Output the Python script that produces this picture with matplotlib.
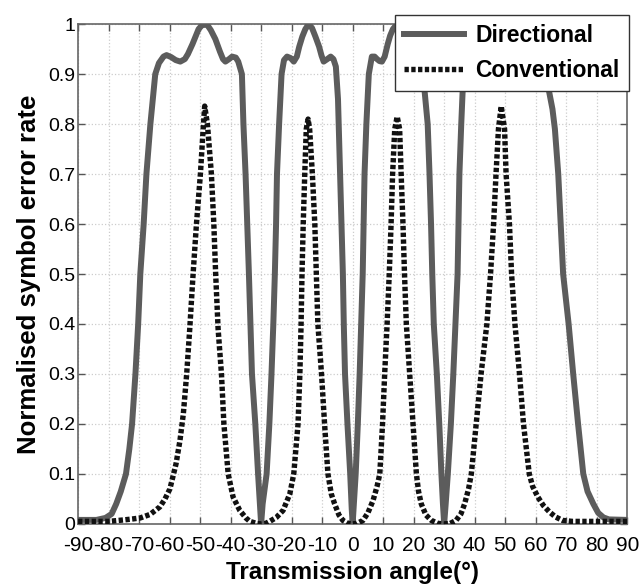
import numpy as np
import matplotlib
matplotlib.use("Agg")
import matplotlib.pyplot as plt

plt.rcParams['font.family'] = ['Liberation Sans', 'DejaVu Sans']

# directional transmission (grey solid)
dir_angle = [-90, -84, -81, -79, -77.5, -76, -74.3, -73.2, -72.3, -71.2, -70.3,
             -69.6, -68.5, -67.6, -66.3, -64.7, -63.5, -62, -61, -59.5, -58, -56.5,
             -55, -54, -52.5, -51.5, -50.5, -49.5, -48.6, -47.5, -46.5, -45, -43.5,
             -42.5, -41.7, -40.5, -39.5, -38.3, -37.5, -36.3,
             -35.8, -35.1, -34.0, -33.5, -33, -31.9, -31.0, -30.4, -30, -29.5,
             -28.2, -27.3, -26.6, -26.0, -25.5, -25.1, -24.8, -24.1, -23.3,
             -22.5, -21.5, -20.3, -19.3, -18.3, -17.5, -16.5, -15.5, -14.4, -13.3,
             -12.2, -11, -10.2, -9.5, -8.3, -7.2, -6.3,
             -5.5, -4.8, -4.1, -3.6, -3.2, -2.9, -2.5, -1.7, -0.8, -0.3, 0,
             0.4, 1.0, 1.7, 2.3, 2.8, 3.3, 3.6, 3.9, 4.5, 5.3, 6.3, 7.2, 8, 8.8, 9.6,
             10.5, 11.5, 12.3, 13.2, 14.5, 15.5, 16.5, 18, 18.8, 19.5, 20.5, 21.5,
             22.4, 23, 23.6, 24.6, 25.2, 25.7,
             26.1, 26.6, 27.6, 28.4, 29.1, 29.6, 30, 30.5, 31.2, 32.2, 33.0,
             33.7, 34.4, 34.7, 35.0, 35.6, 36.3, 37.5, 38.5, 39.5, 40.5, 41.7,
             42.5, 43.5, 44.5, 45.5, 46.5, 47.5, 48.6, 49.5, 50.5, 52, 53.3, 54.5,
             55.5, 56.5, 57.8, 59, 60.3, 61.5, 63, 64.4, 65.5, 66.3,
             67.4, 68.2, 69.0, 70.8, 72.3, 73.9, 75.6, 77, 78.9, 80.5, 82.2,
             84, 90]
dir_ser = [0.008, 0.008, 0.012, 0.02, 0.04, 0.065, 0.1, 0.15, 0.2, 0.3, 0.4,
           0.5, 0.6, 0.7, 0.8, 0.9, 0.922, 0.935, 0.938, 0.934, 0.928, 0.925,
           0.93, 0.94, 0.96, 0.975, 0.99, 0.997, 1.0, 0.997, 0.988, 0.97, 0.945,
           0.93, 0.925, 0.93, 0.935, 0.933, 0.925, 0.9,
           0.8, 0.7, 0.5, 0.4, 0.3, 0.2, 0.1, 0.04, 0.0, 0.04,
           0.1, 0.2, 0.3, 0.4, 0.5, 0.6, 0.7, 0.8, 0.9,
           0.928, 0.935, 0.932, 0.925, 0.935, 0.955, 0.975, 0.99, 1.0, 0.992,
           0.975, 0.955, 0.937, 0.925, 0.93, 0.935, 0.93,
           0.915, 0.85, 0.7, 0.6, 0.5, 0.4, 0.3, 0.2, 0.1, 0.03, 0.0,
           0.04, 0.1, 0.2, 0.3, 0.4, 0.5, 0.6, 0.7, 0.8, 0.9, 0.935, 0.935, 0.93, 0.926, 0.925,
           0.935, 0.96, 0.977, 0.99, 1.0, 0.993, 0.978, 0.955, 0.937, 0.925, 0.93, 0.935,
           0.93, 0.915, 0.865, 0.8, 0.7, 0.6,
           0.5, 0.4, 0.3, 0.2, 0.1, 0.04, 0.0, 0.04, 0.1, 0.2, 0.3,
           0.4, 0.5, 0.6, 0.7, 0.8, 0.9, 0.928, 0.935, 0.933, 0.928, 0.925,
           0.93, 0.945, 0.96, 0.975, 0.988, 0.997, 1.0, 0.997, 0.99, 0.97, 0.95, 0.935,
           0.928, 0.925, 0.93, 0.935, 0.937, 0.935, 0.92, 0.865, 0.83, 0.79,
           0.7, 0.6, 0.5, 0.4, 0.3, 0.2, 0.1, 0.065, 0.04, 0.022, 0.013,
           0.009, 0.008]

# conventional transmission (black dotted)
conv_angle = [-90, -80, -75, -72, -69.6, -66.4, -63.2, -61.5, -59.9, -57.9,
              -56.6, -55.5, -54.4, -53.4, -52.3, -51.2, -49.9, -49.0, -48.5,
              -47.6, -46.3, -45.5, -44.9, -44.1, -43.0, -42.2, -40.8, -39.2,
              -37, -35, -33.7, -31.5, -30, -28.5, -27.2, -25, -22.8, -20.6,
              -19.3, -17.9, -17.3, -16.9, -16.6, -16.2, -15.7, -15.2, -14.6,
              -14.1, -13.2, -12.4, -11.9, -11.4, -10.2, -9.2, -8.1, -7, -5.9,
              -4.5, -3.2, -1.5, 0, 1.5, 3.4, 5, 6.7, 8.0, 8.9, 9.8, 10.5, 11.3,
              12.0, 12.6, 13.1, 13.8, 14.6, 15.4, 15.9, 16.5, 17.0, 17.6, 18.7,
              19.8, 20.9, 21.6, 22.5, 24, 25.8, 28, 30, 32, 33.9, 35.5, 36.7,
              38, 38.9, 40.5, 42.1, 44.0, 45.2, 46.2, 47.0, 47.8, 48.7, 49.8,
              50.3, 51.4, 52.1, 53.2, 54.7, 56.0, 57.9, 59, 60.7, 62.5, 64.5,
              66.5, 68.8, 72, 90]
conv_ser = [0.005, 0.005, 0.008, 0.01, 0.012, 0.019, 0.034, 0.05, 0.07, 0.12,
            0.167, 0.22, 0.3, 0.39, 0.5, 0.6, 0.7, 0.79, 0.836,
            0.8, 0.7, 0.6, 0.5, 0.39, 0.3, 0.2, 0.1, 0.054,
            0.027, 0.012, 0.005, 0.001, 0.0, 0.001, 0.005, 0.013, 0.027, 0.06,
            0.1, 0.2, 0.3, 0.4, 0.5, 0.6, 0.7, 0.79, 0.81,
            0.79, 0.7, 0.6, 0.5, 0.4, 0.3, 0.2, 0.1, 0.06, 0.04,
            0.018, 0.007, 0.001, 0.0, 0.001, 0.007, 0.022, 0.047, 0.075, 0.1, 0.2, 0.3, 0.4,
            0.5, 0.6, 0.7, 0.79, 0.815, 0.79, 0.7, 0.6, 0.5, 0.4, 0.3,
            0.2, 0.1, 0.065, 0.04, 0.018, 0.007, 0.001, 0.0, 0.001, 0.007, 0.02, 0.04,
            0.07, 0.1, 0.2, 0.3, 0.4, 0.5, 0.6, 0.7, 0.79, 0.836, 0.79,
            0.7, 0.6, 0.5, 0.4, 0.3, 0.2, 0.1, 0.075, 0.054, 0.037, 0.024,
            0.014, 0.007, 0.005, 0.005]

x_ticks = list(range(-90, 91, 10))
y_ticks = [0, 0.1, 0.2, 0.3, 0.4, 0.5, 0.6, 0.7, 0.8, 0.9, 1]
y_labels = ['0', '0.1', '0.2', '0.3', '0.4', '0.5', '0.6', '0.7', '0.8', '0.9', '1']

fig = plt.figure(figsize=(6.4, 5.88), dpi=100)
ax = fig.add_axes([0.122, 0.109, 0.858, 0.850])

ax.plot(dir_angle, dir_ser, color='#5c5c5c', lw=4.3, solid_joinstyle='round',
        label='Directional', zorder=3)
ax.plot(conv_angle, conv_ser, color='#111111', lw=3.9,
        linestyle=(0, (0.8, 0.45)), dash_capstyle='butt',
        label='Conventional', zorder=4)

ax.set_xlim(-90, 90)
ax.set_ylim(0, 1)
ax.set_xticks(x_ticks)
ax.set_xticklabels([str(t) for t in x_ticks])
ax.set_yticks(y_ticks)
ax.set_yticklabels(y_labels)
ax.tick_params(direction='in', length=5, width=1, color='#555555',
               top=True, right=True, labelsize=14, pad=2)
ax.tick_params(axis='x', pad=9, labelsize=15)
for s in ax.spines.values():
    s.set_color('#666666')
    s.set_linewidth(1.2)
ax.grid(True, color='#cccccc', linestyle=':', linewidth=0.9)

ax.set_xlabel('Transmission angle(°)', fontsize=17.5, fontweight='bold', labelpad=4)
ax.set_ylabel('Normalised symbol error rate', fontsize=18.5, fontweight='bold', labelpad=5)

leg = ax.legend(loc='upper right', bbox_to_anchor=(1.003, 1.018),
                prop={'weight': 'bold', 'size': 16.5}, handlelength=2.6,
                frameon=True, fancybox=False, framealpha=1, edgecolor='#333333',
                borderpad=0.4, labelspacing=0.5, handletextpad=0.5, borderaxespad=0)
leg.get_frame().set_linewidth(1.0)
leg.set_zorder(10)

fig.savefig('out.png', dpi=100)
